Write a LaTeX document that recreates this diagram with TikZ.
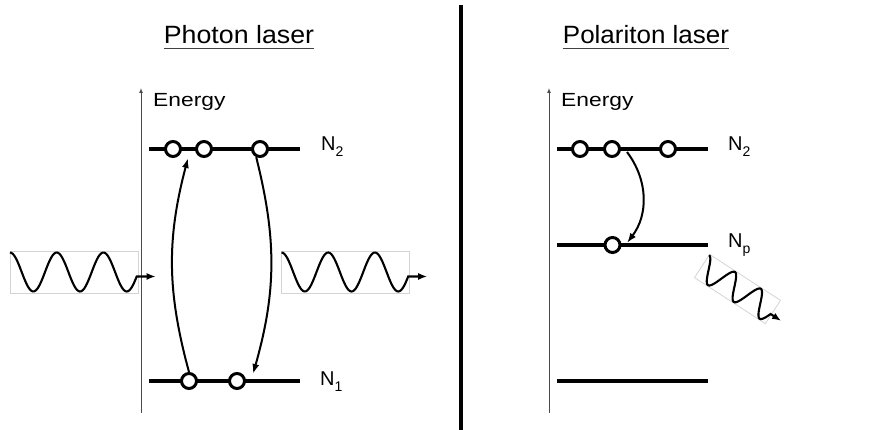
\documentclass[tikz,border=0pt]{standalone}
\usepackage{fontspec}
\setmainfont{Liberation Sans}
\usetikzlibrary{arrows.meta,positioning}
\newcommand{\levelname}[1]{N\raisebox{-6pt}{\fontsize{14}{14}\selectfont #1}}
\newcommand{\photonwave}{%
  \draw[black!17,line width=.8pt] (-64,-21) rectangle (64,21);
  \draw[line width=2.1pt,-{Latex[length=9pt,width=7pt]}]
    plot[domain=-64:62.7,samples=90,smooth] (\x,{-19.5*cos((\x+64)*7.7088)}) -- ++(19,0);
}
\tikzset{
  level/.style={line width=3.8pt},
  particle/.style={circle,draw,fill=white,line width=3pt,minimum size=15pt,inner sep=0pt},
  transition/.style={line width=2pt,-{Latex[length=10pt,width=7pt]}},
  axis/.style={line width=1pt,black!70,-{Latex[length=5pt,width=4pt]}},
  paneltitle/.style={font=\fontsize{25}{28}\selectfont,anchor=base,inner sep=0pt},
  levellabel/.style={font=\fontsize{20}{22}\selectfont,anchor=base west,inner sep=0pt},
  energylabel/.style={font=\fontsize{19}{21}\selectfont,anchor=base west,inner sep=0pt}
}
\begin{document}
\begin{tikzpicture}[x=1pt,y=-1pt]
  \useasboundingbox (0,0) rectangle (895,430);
  % titles
  \node[paneltitle] (phtitle) at (239,44) {\scalebox{1.07}[1]{Photon laser}};
  \node[paneltitle] (potitle) at (646,44) {\scalebox{1.04}[1]{Polariton laser}};
  \foreach \t in {phtitle,potitle}
    \draw[black!75,line width=1.6pt] ([yshift=-4.5pt]\t.base west) -- ([yshift=-4.5pt]\t.base east);
  % separator
  \draw[line width=4pt] (461,5) -- (461,430);

  % ---- photon laser ----
  \coordinate (axbotA) at (141,413);
  \coordinate (axtopA) at (141,88);
  \draw[axis] (axbotA) -- (axtopA);
  \node[energylabel] (energyA) at (153,107) {\scalebox{1.2}[1]{Energy}};
  \draw[level] (149,149) -- (300,149);
  \draw[level] (149,381) -- (300,381);
  \foreach \n/\x in {1/173,2/204,3/260}
    \node[particle] (up\n) at (\x,149) {};
  \foreach \n/\x in {1/189,2/237}
    \node[particle] (lo\n) at (\x,381) {};
  \node[levellabel] (ntwoA) at (321,151) {\levelname{2}};
  \node[levellabel] (noneA) at (320,386) {\levelname{1}};
  \coordinate (pumpend) at (188,158);
  \coordinate (emitend) at (253,374);
  \draw[transition] (lo1.north) to[bend left=15] (pumpend);
  \draw[transition] (up3.245) to[bend left=15] (emitend);
  \begin{scope}[shift={(74,272)}]
    \photonwave
  \end{scope}
  \begin{scope}[shift={(345.5,272)}]
    \photonwave
  \end{scope}

  % ---- polariton laser ----
  \coordinate (axbotB) at (549,413);
  \coordinate (axtopB) at (549,88);
  \draw[axis] (axbotB) -- (axtopB);
  \node[energylabel] (energyB) at (561,107) {\scalebox{1.2}[1]{Energy}};
  \draw[level] (557,149) -- (708,149);
  \draw[level] (557,245) -- (708,245);
  \draw[level] (557,381) -- (708,381);
  \foreach \n/\x in {1/580,2/612,3/668}
    \node[particle] (pu\n) at (\x,149) {};
  \node[particle] (pp1) at (612.5,245) {};
  \node[levellabel] (ntwoB) at (728,151) {\levelname{2}};
  \node[levellabel] (npB) at (728,248) {\levelname{p}};
  \coordinate (relaxstart) at (627,152);
  \coordinate (relaxend) at (627,243);
  \draw[transition] (relaxstart) to[bend left=37] (relaxend);
  \begin{scope}[shift={(737.5,289)},rotate=-33,scale=.66]
    \photonwave
  \end{scope}
\end{tikzpicture}
\end{document}
